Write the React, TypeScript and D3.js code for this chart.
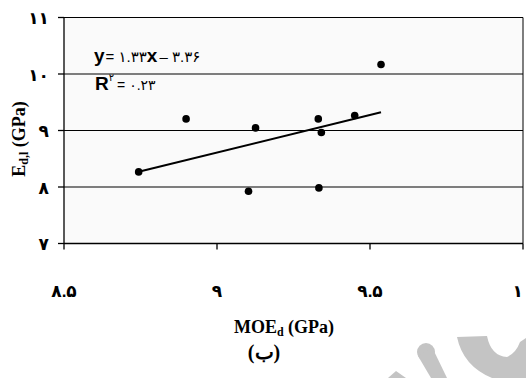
import React from 'react';
import * as d3 from 'd3';

// MOE_d (GPa) vs E_d,l (GPa)
const moeValues = [8.744, 8.899, 9.126, 9.103, 9.331, 9.341, 9.333, 9.45, 9.536];
const edlValues = [8.267, 9.205, 9.046, 7.926, 9.205, 8.965, 7.984, 9.265, 10.168];
const slope = 1.33;
const intercept = -3.36;

const xTicks = [8.5, 9, 9.5, 10];
const xTickLabels = ['۸.۵', '۹', '۹.۵', '۱۰'];
const yTicks = [7, 8, 9, 10, 11];
const yTickLabels = ['۷', '۸', '۹', '۱۰', '۱۱'];

const width = 526;
const height = 378;
const margin = { top: 17.5, right: 3, bottom: 134.5, left: 64 };

const sans = '"Liberation Sans", Arial, "DejaVu Sans", sans-serif';
const serif = '"Liberation Serif", "Times New Roman", "DejaVu Serif", serif';

const App = () => {
  const x = d3.scaleLinear().domain([8.5, 10]).range([margin.left, width - margin.right]);
  const y = d3.scaleLinear().domain([7, 11]).range([height - margin.bottom, margin.top]);

  const x0 = d3.min(moeValues) as number;
  const x1 = d3.max(moeValues) as number;
  const trend = d3.line<number>()
    .x(d => x(d))
    .y(d => y(slope * d + intercept));

  const points = moeValues.map((m, i) => [m, edlValues[i]]);

  return (
    <svg width={width} height={height} style={{ position: 'absolute', left: 0, top: 0, background: '#fff' }}>
      {/* watermark */}
      <g fill="#c4c4c4">
        <path d="M457,337 L487,336 Q491,356 507,357 Q516,353 520,342 L526,338 L526,378 L492,378 Q463,366 457,337 Z" />
        <circle cx={426} cy={352} r={9} />
        <path d="M418,356 L432,347 L447,378 L431,378 Z" />
        <path d="M388,378 L396,371 L406,378 Z" />
      </g>

      <rect x={x(8.5)} y={y(11)} width={x(10) - x(8.5)} height={y(7) - y(11)} fill="#fafafa" />

      {/* gridlines */}
      {yTicks.map(t => (
        <line key={t} x1={x(8.5)} x2={x(10)} y1={y(t)} y2={y(t)} stroke="#000" strokeWidth={1} />
      ))}
      <line x1={x(10)} x2={x(10)} y1={y(11)} y2={y(7)} stroke="#000" strokeWidth={1} />

      {/* axes */}
      <line x1={x(8.5)} x2={x(8.5)} y1={y(11)} y2={y(7)} stroke="#000" strokeWidth={1.3} />
      <line x1={x(8.5)} x2={x(10)} y1={y(7)} y2={y(7)} stroke="#000" strokeWidth={1.3} />
      {yTicks.map((t, i) => (
        <g key={t}>
          <line x1={x(8.5) - 6} x2={x(8.5)} y1={y(t)} y2={y(t)} stroke="#000" strokeWidth={1.3} />
          <text x={49} y={y(t)} dy="0.4em" textAnchor="end" fontFamily={sans} fontWeight="bold" fontSize={17}>
            {yTickLabels[i]}
          </text>
        </g>
      ))}
      {xTicks.map((t, i) => (
        <g key={t}>
          <line x1={x(t)} x2={x(t)} y1={y(7)} y2={y(7) + 6} stroke="#000" strokeWidth={1.3} />
          <text x={x(t)} y={297} textAnchor="middle" fontFamily={sans} fontWeight="bold" fontSize={17}>
            {xTickLabels[i]}
          </text>
        </g>
      ))}

      {/* trend line */}
      <path d={trend([x0, x1]) || ''} fill="none" stroke="#000" strokeWidth={2} />

      {points.map((p, i) => (
        <circle key={i} cx={x(p[0])} cy={y(p[1])} r={3.8} fill="#000" />
      ))}

      {/* equation */}
      <text x={94} y={62} fontFamily={sans}>
        <tspan fontWeight="bold" fontSize={19}>y</tspan>
        <tspan fontSize={15} dx={1}>= ۱.۳۳</tspan>
        <tspan fontWeight="bold" fontSize={19}>x</tspan>
        <tspan fontSize={15} dx={2}>– ۳.۳۶</tspan>
      </text>
      <text x={95} y={90} fontFamily={sans}>
        <tspan fontWeight="bold" fontSize={19}>R</tspan>
        <tspan fontSize={10} dy={-9}>۲</tspan>
        <tspan fontSize={14} dx={3} dy={9}>= ۰.۲۳</tspan>
      </text>

      {/* axis titles */}
      <text transform="translate(25,139) rotate(-90)" textAnchor="middle" fontFamily={serif} fontWeight="bold" fontSize={18}>
        E<tspan fontSize={12} dy={3}>d,l</tspan><tspan dy={-3}> (GPa)</tspan>
      </text>
      <text x={284} y={333} textAnchor="middle" fontFamily={serif} fontWeight="bold" fontSize={18}>
        MOE<tspan fontSize={12} dy={3}>d</tspan><tspan dy={-3}> (GPa)</tspan>
      </text>
      <text x={264} y={359} textAnchor="middle" fontFamily={serif} fontWeight="bold" fontSize={20}>
        (ب)
      </text>
    </svg>
  );
};

export default App;
